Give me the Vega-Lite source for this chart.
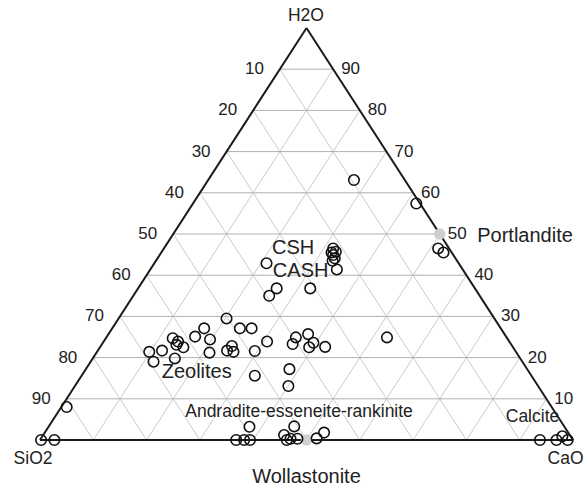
{
  "$schema": "https://vega.github.io/schema/vega-lite/v6.json",
  "width": 533,
  "height": 412,
  "autosize": {"type": "none"},
  "padding": {"left": 40, "top": 28, "right": 14, "bottom": 48},
  "background": "white",
  "config": {"view": {"stroke": null}, "text": {"font": "Liberation Sans", "color": "#222"}},
  "datasets": {
    "hgrid": [
      {"x": 5, "y": 10, "x2": 95, "y2": 10},
      {"x": 10, "y": 20, "x2": 90, "y2": 20},
      {"x": 15, "y": 30, "x2": 85, "y2": 30},
      {"x": 20, "y": 40, "x2": 80, "y2": 40},
      {"x": 25, "y": 50, "x2": 75, "y2": 50},
      {"x": 30, "y": 60, "x2": 70, "y2": 60},
      {"x": 35, "y": 70, "x2": 65, "y2": 70},
      {"x": 40, "y": 80, "x2": 60, "y2": 80},
      {"x": 45, "y": 90, "x2": 55, "y2": 90}
    ],
    "dgrid": [
      {"x": 10, "y": 0, "x2": 55, "y2": 90},
      {"x": 20, "y": 0, "x2": 60, "y2": 80},
      {"x": 30, "y": 0, "x2": 65, "y2": 70},
      {"x": 40, "y": 0, "x2": 70, "y2": 60},
      {"x": 50, "y": 0, "x2": 75, "y2": 50},
      {"x": 60, "y": 0, "x2": 80, "y2": 40},
      {"x": 70, "y": 0, "x2": 85, "y2": 30},
      {"x": 80, "y": 0, "x2": 90, "y2": 20},
      {"x": 90, "y": 0, "x2": 95, "y2": 10},
      {"x": 10, "y": 0, "x2": 5, "y2": 10},
      {"x": 20, "y": 0, "x2": 10, "y2": 20},
      {"x": 30, "y": 0, "x2": 15, "y2": 30},
      {"x": 40, "y": 0, "x2": 20, "y2": 40},
      {"x": 50, "y": 0, "x2": 25, "y2": 50},
      {"x": 60, "y": 0, "x2": 30, "y2": 60},
      {"x": 70, "y": 0, "x2": 35, "y2": 70},
      {"x": 80, "y": 0, "x2": 40, "y2": 80},
      {"x": 90, "y": 0, "x2": 45, "y2": 90}
    ],
    "edges": [
      {"x": 0, "y": 0, "x2": 100, "y2": 0},
      {"x": 0, "y": 0, "x2": 50, "y2": 100},
      {"x": 100, "y": 0, "x2": 50, "y2": 100}
    ],
    "refs": [{"x": 75, "y": 50}, {"x": 50, "y": 0}],
    "points": [
      {"x": 58.9, "y": 63.1}, {"x": 70.6, "y": 57.4}, {"x": 74.7, "y": 46.5}, {"x": 75.7, "y": 45.5},
      {"x": 55.0, "y": 46.5}, {"x": 54.7, "y": 45.5}, {"x": 55.5, "y": 45.7}, {"x": 55.0, "y": 44.9},
      {"x": 55.3, "y": 44.1}, {"x": 54.9, "y": 43.5}, {"x": 55.7, "y": 41.4},
      {"x": 42.5, "y": 42.9}, {"x": 44.4, "y": 36.8}, {"x": 43.0, "y": 35.0}, {"x": 50.7, "y": 36.8},
      {"x": 35.0, "y": 29.5}, {"x": 30.8, "y": 27.1}, {"x": 37.5, "y": 27.1}, {"x": 39.7, "y": 27.1},
      {"x": 24.9, "y": 24.7}, {"x": 29.1, "y": 25.1}, {"x": 31.9, "y": 24.4}, {"x": 25.9, "y": 23.9},
      {"x": 25.6, "y": 23.1}, {"x": 26.9, "y": 22.5}, {"x": 20.5, "y": 21.4}, {"x": 22.9, "y": 21.7},
      {"x": 21.3, "y": 19.0}, {"x": 25.3, "y": 19.8}, {"x": 31.8, "y": 21.2},
      {"x": 36.0, "y": 22.8}, {"x": 35.1, "y": 21.7}, {"x": 36.3, "y": 21.4}, {"x": 40.3, "y": 21.6},
      {"x": 42.6, "y": 23.9}, {"x": 48.0, "y": 24.9}, {"x": 47.4, "y": 23.3}, {"x": 50.3, "y": 25.7},
      {"x": 51.3, "y": 23.6}, {"x": 50.5, "y": 22.5}, {"x": 53.5, "y": 22.6}, {"x": 65.1, "y": 24.9},
      {"x": 46.8, "y": 17.2}, {"x": 40.3, "y": 15.6}, {"x": 46.6, "y": 13.1}, {"x": 5.0, "y": 8.0},
      {"x": 0.2, "y": 0}, {"x": 2.7, "y": 0},
      {"x": 36.8, "y": 0}, {"x": 38.3, "y": 0}, {"x": 39.4, "y": 0}, {"x": 39.3, "y": 3.2},
      {"x": 45.8, "y": 1.2}, {"x": 46.3, "y": 0}, {"x": 47.0, "y": 0.3}, {"x": 47.7, "y": 3.3},
      {"x": 48.3, "y": 0.3}, {"x": 51.9, "y": 0.4}, {"x": 53.3, "y": 1.8},
      {"x": 93.8, "y": 0}, {"x": 96.9, "y": 0}, {"x": 98.0, "y": 0.9}, {"x": 99.0, "y": 0}
    ],
    "bigLabels": [
      {"label": "CSH", "x": 47.5, "y": 46.7},
      {"label": "CASH", "x": 48.9, "y": 41.1},
      {"label": "Zeolites", "x": 29.4, "y": 16.6},
      {"label": "Portlandite", "x": 91.0, "y": 49.4},
      {"label": "Wollastonite", "x": 50.0, "y": -9.1}
    ],
    "midLabels": [
      {"label": "Andradite-esseneite-rankinite", "x": 48.6, "y": 6.8},
      {"label": "Calcite", "x": 92.4, "y": 5.5},
      {"label": "SiO2", "x": -1.3, "y": -4.5},
      {"label": "CaO", "x": 98.6, "y": -4.5},
      {"label": "H2O", "x": 49.9, "y": 103.0}
    ],
    "bottomTicks": [
      {"label": "10", "x": 10}, {"label": "20", "x": 20}, {"label": "30", "x": 30},
      {"label": "40", "x": 40}, {"label": "50", "x": 50}, {"label": "60", "x": 60},
      {"label": "70", "x": 70}, {"label": "80", "x": 80}, {"label": "90", "x": 90}
    ],
    "leftTicks": [
      {"label": "10", "x": 45, "y": 90}, {"label": "20", "x": 40, "y": 80}, {"label": "30", "x": 35, "y": 70},
      {"label": "40", "x": 30, "y": 60}, {"label": "50", "x": 25, "y": 50}, {"label": "60", "x": 20, "y": 40},
      {"label": "70", "x": 15, "y": 30}, {"label": "80", "x": 10, "y": 20}, {"label": "90", "x": 5, "y": 10}
    ],
    "rightTicks": [
      {"label": "90", "x": 55, "y": 90}, {"label": "80", "x": 60, "y": 80}, {"label": "70", "x": 65, "y": 70},
      {"label": "60", "x": 70, "y": 60}, {"label": "50", "x": 75, "y": 50}, {"label": "40", "x": 80, "y": 40},
      {"label": "30", "x": 85, "y": 30}, {"label": "20", "x": 90, "y": 20}, {"label": "10", "x": 95, "y": 10}
    ]
  },
  "encoding": {
    "x": {"field": "x", "type": "quantitative", "scale": {"domain": [0, 100], "nice": false, "zero": false}, "axis": null},
    "y": {"field": "y", "type": "quantitative", "scale": {"domain": [0, 100], "nice": false, "zero": false}, "axis": null}
  },
  "layer": [
    {
      "data": {"name": "dgrid"},
      "mark": {"type": "rule", "color": "#bdbdbd", "strokeWidth": 0.8, "clip": false},
      "encoding": {"x2": {"field": "x2"}, "y2": {"field": "y2"}}
    },
    {
      "data": {"name": "hgrid"},
      "mark": {"type": "rule", "color": "#b0b0b0", "strokeWidth": 1, "clip": false},
      "encoding": {"x2": {"field": "x2"}, "y2": {"field": "y2"}}
    },
    {
      "data": {"name": "edges"},
      "mark": {"type": "rule", "color": "#1a1a1a", "strokeWidth": 2, "clip": false},
      "encoding": {"x2": {"field": "x2"}, "y2": {"field": "y2"}}
    },
    {
      "data": {"name": "refs"},
      "mark": {"type": "point", "shape": "circle", "filled": true, "color": "#cfcfcf", "opacity": 1, "size": 130, "clip": false}
    },
    {
      "data": {"name": "points"},
      "mark": {"type": "point", "shape": "circle", "filled": false, "color": "#111", "opacity": 1, "strokeWidth": 1.6, "size": 110, "clip": false}
    },
    {
      "data": {"name": "bigLabels"},
      "mark": {"type": "text", "fontSize": 20, "align": "center", "baseline": "middle", "clip": false},
      "encoding": {"text": {"field": "label"}}
    },
    {
      "data": {"name": "midLabels"},
      "mark": {"type": "text", "fontSize": 17.5, "align": "center", "baseline": "middle", "clip": false},
      "encoding": {"text": {"field": "label"}}
    },
    {
      "data": {"name": "bottomTicks"},
      "mark": {"type": "text", "fontSize": 17, "align": "center", "baseline": "middle", "dx": -4, "clip": false},
      "encoding": {"y": {"datum": -4.5}, "text": {"field": "label"}}
    },
    {
      "data": {"name": "leftTicks"},
      "mark": {"type": "text", "fontSize": 17, "align": "right", "baseline": "middle", "dx": -16, "dy": 0, "clip": false},
      "encoding": {"text": {"field": "label"}}
    },
    {
      "data": {"name": "rightTicks"},
      "mark": {"type": "text", "fontSize": 17, "align": "left", "baseline": "middle", "dx": 8, "dy": 0, "clip": false},
      "encoding": {"text": {"field": "label"}}
    }
  ]
}
